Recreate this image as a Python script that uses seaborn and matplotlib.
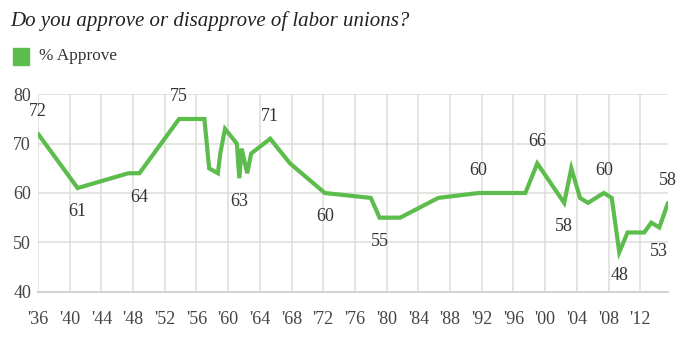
import matplotlib
matplotlib.use("Agg")
import matplotlib.pyplot as plt
import seaborn as sns
import pandas as pd
from matplotlib.patches import Rectangle

# ---- data ----
years = [1936, 1941, 1947.4, 1948.8, 1953.8, 1957.0, 1957.6, 1958.7, 1959.0, 1959.6,
         1961.1, 1961.4, 1961.7, 1962.4, 1962.9, 1965.3, 1967.8, 1972.2, 1978.0, 1979.1,
         1981.7, 1986.5, 1991.6, 1997.5, 1999.0, 2002.4, 2003.3, 2004.4, 2005.4, 2007.4,
         2008.4, 2009.35, 2010.4, 2012.5, 2013.4, 2014.4, 2015.5]
approve = [72, 61, 64, 64, 75, 75, 65, 64, 68, 73,
           70, 63, 69, 64, 68, 71, 66, 60, 59, 55,
           55, 59, 60, 60, 66, 58, 65, 59, 58, 60,
           59, 48, 52, 52, 54, 53, 58]
label_idx = [0, 1, 3, 4, 11, 15, 17, 19, 22, 24, 25, 29, 31, 35, 36]
label_pos = ["above", "below", "below", "above", "below", "above", "below", "below",
             "above", "above", "below", "above", "below", "below", "above"]
x_ticks = list(range(1936, 2013, 4))
x_tick_labels = ["'%02d" % (y % 100) for y in x_ticks]
y_ticks = [40, 50, 60, 70, 80]
title = "Do you approve or disapprove of labor unions?"
series_name = "% Approve"

df = pd.DataFrame({"year": years, "approve": approve})

sns.set_theme(style="white")
plt.rcParams["font.family"] = ["Liberation Serif", "DejaVu Serif"]

GREEN = "#5cbc4c"
TXT = "#333333"

fig = plt.figure(figsize=(6.84, 3.41), dpi=100)
ax = fig.add_axes([38 / 684, (341 - 291.7) / 341, (668 - 38) / 684, (291.7 - 94.3) / 341])

sns.lineplot(data=df, x="year", y="approve", ax=ax, color=GREEN, linewidth=3.0,
             solid_joinstyle="miter", legend=False)

ax.set_xlim(1936, 2015.5)
ax.set_ylim(40, 80)
ax.set_xticks(x_ticks)
ax.set_xticklabels(x_tick_labels)
ax.set_yticks(y_ticks)
ax.set_xlabel("")
ax.set_ylabel("")
ax.grid(True, color="#dcdcd8", linewidth=1.1)
ax.set_axisbelow(True)
for s in ["top", "right", "left"]:
    ax.spines[s].set_visible(False)
ax.spines["bottom"].set_color("#d3d3cf")
ax.spines["bottom"].set_linewidth(1.5)
ax.tick_params(axis="both", length=0, labelsize=13, colors="#444444")
ax.tick_params(axis="x", pad=14)
ax.tick_params(axis="y", pad=5)

for i, pos in zip(label_idx, label_pos):
    dy = 10 if pos == "above" else -11
    ax.annotate(str(approve[i]), (years[i], approve[i]), xytext=(0, dy),
                textcoords="offset points", ha="center",
                va="bottom" if pos == "above" else "top",
                fontsize=13, color=TXT)

fig.text(10 / 684, 1 - 21 / 341, title, fontsize=15, style="italic",
         color="#222222", va="center", ha="left")
fig.patches.append(Rectangle((12.7 / 684, (341 - 65) / 341), 16.6 / 684, 17 / 341,
                             transform=fig.transFigure, color=GREEN, figure=fig))
fig.text(39 / 684, 1 - 56.5 / 341, series_name, fontsize=12.4, color=TXT,
         va="center", ha="left")

fig.savefig("out.png", dpi=100, facecolor="white")
